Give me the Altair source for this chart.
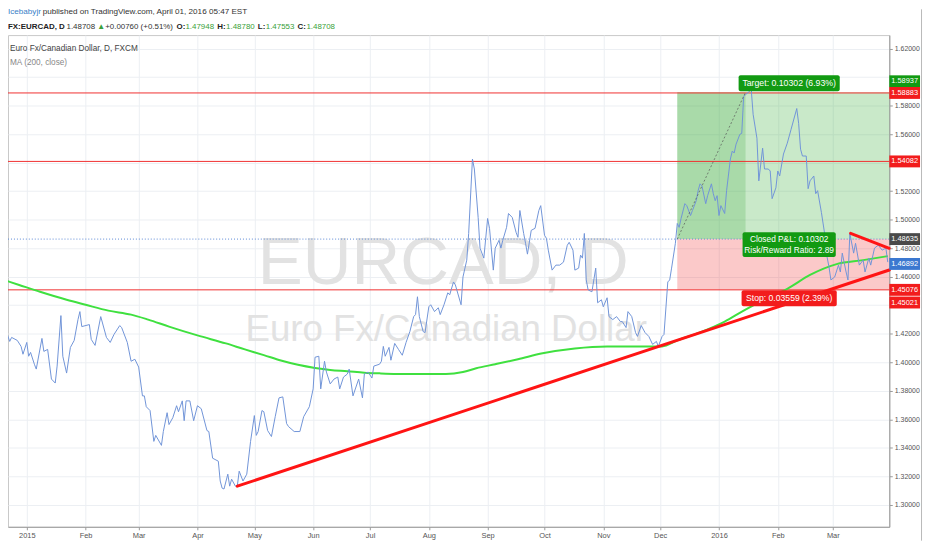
import altair as alt
import pandas as pd

FONT = "Liberation Sans, Arial, sans-serif"

# ---------------- data ----------------
start_date = "2015-01-01"
x_domain_days = [-9.9, 454.8]
y_domain = [1.2846, 1.6294]

# EUR/CAD daily close (days after 2015-01-01, price)
price_days = [
    -11, -9, -8, -5, -3, -2, 0, 1, 2, 4,
    5, 8, 9, 11, 13, 15, 16, 18, 19, 21,
    23, 25, 27, 28, 29, 33, 34, 36, 39, 42,
    44, 46, 49, 50, 53, 55, 57, 59, 61, 62,
    63, 65, 67, 68, 71, 72, 74, 75, 77, 79,
    80, 82, 83, 84, 86, 88, 90, 92, 95, 96,
    98, 101, 102, 103, 104, 106, 107, 108, 110, 111,
    112, 114, 116, 118, 120, 121, 122, 124, 125, 127,
    129, 131, 133, 135, 137, 138, 141, 144, 146, 149,
    151, 152, 154, 155, 157, 158, 160, 162, 164, 165,
    167, 169, 170, 172, 175, 177, 178, 180, 182, 183,
    186, 187, 188, 189, 191, 192, 194, 196, 198, 200,
    202, 204, 205, 206, 207, 209, 210, 212, 213, 215,
    217, 218, 220, 222, 223, 225, 226, 229, 230, 232,
    233, 235, 236, 238, 239, 241, 243, 244, 246, 247,
    249, 250, 251, 253, 254, 256, 258, 259, 260, 262,
    263, 264, 266, 268, 270, 271, 273, 274, 275, 277,
    279, 281, 283, 285, 286, 288, 289, 291, 292, 293,
    294, 295, 296, 298, 300, 301, 303, 304, 306, 307,
    309, 311, 313, 314, 316, 317, 319, 321, 322, 324,
    326, 328, 330, 332, 333, 335, 336, 338, 339, 340,
    342, 343, 344, 345, 347, 348, 350, 351, 353, 354,
    355, 356, 358, 359, 361, 362, 363, 364, 365, 366,
    368, 369, 371, 372, 373, 374, 376, 377, 378, 379,
    381, 382, 383, 385, 386, 388, 389, 391, 392, 393,
    395, 396, 397, 399, 401, 403, 406, 407, 408, 409,
    411, 412, 413, 415, 416, 417, 419, 421, 422, 423,
    424, 426, 428, 429, 430, 432, 433, 434, 436, 437,
    439, 441, 442, 444, 445, 447, 449, 451, 453, 454,
]
price_vals = [
    1.4223, 1.4146, 1.4174, 1.4153, 1.4111, 1.4056, 1.4139, 1.4042, 1.4069, 1.3986,
    1.3952, 1.4167, 1.4076, 1.4090, 1.3882, 1.3854, 1.3973, 1.4327, 1.4042, 1.3924,
    1.4104, 1.4153, 1.4299, 1.4355, 1.4250, 1.4264, 1.4160, 1.4118, 1.4320, 1.4174,
    1.4139, 1.4195, 1.4257, 1.4244, 1.4139, 1.4007, 1.4021, 1.3966, 1.3764, 1.3764,
    1.3688, 1.3661, 1.3445, 1.3487, 1.3417, 1.3514, 1.3646, 1.3563, 1.3611, 1.3695,
    1.3653, 1.3729, 1.3590, 1.3729, 1.3729, 1.3590, 1.3695, 1.3674, 1.3521, 1.3514,
    1.3327, 1.3306, 1.3167, 1.3117, 1.3111, 1.3215, 1.3131, 1.3180, 1.3131, 1.3131,
    1.3236, 1.3167, 1.3215, 1.3445, 1.3626, 1.3487, 1.3514, 1.3661, 1.3653, 1.3521,
    1.3479, 1.3618, 1.3750, 1.3757, 1.3570, 1.3549, 1.3514, 1.3514, 1.3618, 1.3688,
    1.3813, 1.4035, 1.4042, 1.3813, 1.4007, 1.3931, 1.3848, 1.3882, 1.3896, 1.3813,
    1.3896, 1.3917, 1.3952, 1.3764, 1.3882, 1.3750, 1.3917, 1.3931, 1.3889, 1.3973,
    1.3986, 1.4007, 1.4111, 1.4042, 1.4104, 1.4014, 1.4132, 1.4090, 1.4049, 1.4139,
    1.4215, 1.4320, 1.4334, 1.4459, 1.4320, 1.4215, 1.4208, 1.4389, 1.4403, 1.4355,
    1.4382, 1.4334, 1.4403, 1.4487, 1.4473, 1.4563, 1.4542, 1.4403, 1.4598, 1.4716,
    1.4903, 1.5425, 1.5355, 1.5015, 1.4800, 1.4730, 1.5008, 1.4939, 1.4646, 1.4800,
    1.4855, 1.4800, 1.4855, 1.4946, 1.5043, 1.5015, 1.4911, 1.4876, 1.5064, 1.4903,
    1.4834, 1.4758, 1.4925, 1.4939, 1.5064, 1.5098, 1.4890, 1.4869, 1.4786, 1.4646,
    1.4681, 1.4681, 1.4702, 1.4820, 1.4841, 1.4786, 1.4646, 1.4660, 1.4751, 1.4730,
    1.4903, 1.4577, 1.4507, 1.4494, 1.4660, 1.4417, 1.4438, 1.4389, 1.4452, 1.4320,
    1.4299, 1.4320, 1.4285, 1.4285, 1.4243, 1.4355, 1.4320, 1.4208, 1.4181, 1.4257,
    1.4208, 1.4181, 1.4125, 1.4146, 1.4111, 1.4181, 1.4195, 1.4563, 1.4577, 1.4660,
    1.4834, 1.4973, 1.4946, 1.5008, 1.5112, 1.5098, 1.5029, 1.5064, 1.5133, 1.5203,
    1.5251, 1.5237, 1.5112, 1.5168, 1.5251, 1.5182, 1.5133, 1.5168, 1.5029, 1.5098,
    1.5043, 1.5203, 1.5425, 1.5481, 1.5467, 1.5529, 1.5598, 1.5605, 1.5863, 1.5877,
    1.5898, 1.5912, 1.5738, 1.5571, 1.5272, 1.5501, 1.5355, 1.5355, 1.5341, 1.5147,
    1.5223, 1.5341, 1.5306, 1.5460, 1.5536, 1.5633, 1.5779, 1.5675, 1.5494, 1.5446,
    1.5446, 1.5217, 1.5272, 1.5306, 1.5182, 1.5203, 1.5050, 1.4876, 1.4737, 1.4668,
    1.4577, 1.4598, 1.4681, 1.4633, 1.4765, 1.4633, 1.4577, 1.4903, 1.4765, 1.4834,
    1.4681, 1.4716, 1.4633, 1.4730, 1.4681, 1.4800, 1.4821, 1.4786, 1.4800, 1.4702,
]

# MA (200, close)
ma_days = [-12, -4, 7, 21, 31, 43, 55, 64, 75, 90,
           105, 115, 125, 134, 143, 152, 160, 169, 178,
           186, 195, 204, 212, 221, 230, 237, 247, 259, 272,
           289, 306, 324, 335, 343, 355, 368, 378, 390, 401,
           413, 427, 441, 454]
ma_vals = [1.4577, 1.4542, 1.4494, 1.4438, 1.4403, 1.4362, 1.4334, 1.4299, 1.4250, 1.4188,
           1.4132, 1.4090, 1.4050, 1.4012, 1.3982, 1.3960, 1.3946, 1.3937, 1.3927,
           1.3922, 1.3918, 1.3917, 1.3917, 1.3917, 1.3931, 1.3958, 1.3986, 1.4021, 1.4063,
           1.4097, 1.4111, 1.4111, 1.4111, 1.4153, 1.4209, 1.4285, 1.4362, 1.4445, 1.4514,
           1.4612, 1.4688, 1.4716, 1.4744]

month_ticks = ["2015-01-01", "2015-02-01", "2015-03-01", "2015-04-01", "2015-05-01",
               "2015-06-01", "2015-07-01", "2015-08-01", "2015-09-01", "2015-10-01",
               "2015-11-01", "2015-12-01", "2016-01-01", "2016-02-01", "2016-03-01"]
price_ticks = [1.30, 1.32, 1.34, 1.36, 1.38, 1.40, 1.42, 1.44, 1.46, 1.48,
               1.50, 1.52, 1.54, 1.56, 1.58, 1.60, 1.62]
# tick labels hidden behind the price tags in the reference
covered_ticks = ["1.60", "1.54", "1.44"]

level_lines = [1.58883, 1.54082, 1.45076]
entry_price = 1.48635
target_price = 1.58937
stop_price = 1.45076
entry_day = 343
close_day = 379
end_day = 454.8
label_day = 402

trend_start_days = [111, 434.4]
trend_start_vals = [1.3131, 1.4904]
trend_end_days = [454.8, 454.8]
trend_end_vals = [1.4647, 1.4799]

tag_vals = [1.58937, 1.58883, 1.54082, 1.48635, 1.46892, 1.45076, 1.45021]
tag_colors = ["#129a12", "#f21c1c", "#f21c1c", "#4a4a4a", "#3b78d0", "#f21c1c", "#f21c1c"]
tag_nudges = [-11, 0, 0, 0, 0, 0, 12]

# ---------------- helpers ----------------
t0 = pd.Timestamp(start_date)


def ms(days):
    return int((t0 + pd.Timedelta(days=days)).value // 1_000_000)


def ms_date(s):
    return int(pd.Timestamp(s).value // 1_000_000)


W, H = 889, 496
xs = alt.Scale(type="utc", domain=[ms(x_domain_days[0]), ms(x_domain_days[1])])
ys = alt.Scale(domain=y_domain, nice=False, zero=False)

hidden = " || ".join(f"format(datum.value, '.2f') == '{c}'" for c in covered_ticks)

x_axis = alt.Axis(
    values=[ms_date(s) for s in month_ticks],
    labelExpr="utcFormat(datum.value, '%m') == '01' ? utcFormat(datum.value, '%Y') : utcFormat(datum.value, '%b')",
    grid=True, gridColor="#eceff3", domainColor="#9a9a9a", tickColor="#9a9a9a",
    tickSize=3, labelFont=FONT, labelFontSize=7.5, labelColor="#555", labelPadding=2,
    labelFlush=False, labelOverlap=False, title=None,
)
y_axis = alt.Axis(
    orient="right", values=price_ticks,
    labelExpr=f"({hidden}) ? '' : format(datum.value, '.5f')",
    grid=True, gridColor="#eceff3", domainColor="#9a9a9a", tickColor="#9a9a9a",
    tickSize=3, labelFont=FONT, labelFontSize=7, labelColor="#555", labelPadding=2,
    labelOverlap=False, labelFlush=False, title=None,
)


def X(field="t"):
    return alt.X(f"{field}:T", scale=xs, axis=x_axis)


def Y(field="p"):
    return alt.Y(f"{field}:Q", scale=ys, axis=y_axis)


one = pd.DataFrame({"a": [0]})

price_df = pd.DataFrame({"t": [ms(d) for d in price_days], "p": price_vals})
ma_df = pd.DataFrame({"t": [ms(d) for d in ma_days], "p": ma_vals})

layers = []

# zones of the long-position tool
layers.append(alt.Chart(pd.DataFrame({"t": [ms(entry_day)], "t2": [ms(end_day)],
                                      "p": [entry_price], "p2": [target_price]}))
              .mark_rect(color="#3caf3c", opacity=0.28)
              .encode(x=X(), x2="t2", y=Y(), y2="p2"))
layers.append(alt.Chart(pd.DataFrame({"t": [ms(entry_day)], "t2": [ms(close_day)],
                                      "p": [entry_price], "p2": [target_price]}))
              .mark_rect(color="#2e9e2e", opacity=0.2)
              .encode(x=X(), x2="t2", y=Y(), y2="p2"))
layers.append(alt.Chart(pd.DataFrame({"t": [ms(entry_day)], "t2": [ms(end_day)],
                                      "p": [entry_price], "p2": [stop_price]}))
              .mark_rect(color="#f03c3c", opacity=0.28)
              .encode(x=X(), x2="t2", y=Y(), y2="p2"))

# watermark
layers.append(alt.Chart(one).mark_text(font=FONT, fontSize=68, color="#e2e2e2",
                                       align="center", baseline="middle")
              .encode(x=alt.value(439), y=alt.value(231), text=alt.value("EURCAD, D")))
layers.append(alt.Chart(one).mark_text(font=FONT, fontSize=37, color="#e2e2e2",
                                       align="center", baseline="middle")
              .encode(x=alt.value(442), y=alt.value(298), text=alt.value("Euro Fx/Canadian Dollar")))

# horizontal levels
layers.append(alt.Chart(pd.DataFrame({"p": level_lines}))
              .mark_rule(color="#f03030", strokeWidth=1).encode(y=Y()))
layers.append(alt.Chart(pd.DataFrame({"p": [entry_price]}))
              .mark_rule(color="#5a88d6", strokeWidth=1, strokeDash=[1, 2]).encode(y=Y()))

# moving average and price
layers.append(alt.Chart(ma_df).mark_line(color="#3fe03f", strokeWidth=2, clip=True,
                                         interpolate="monotone")
              .encode(x=X(), y=Y()))
layers.append(alt.Chart(price_df).mark_line(color="#7094d8", strokeWidth=1, clip=True)
              .encode(x=X(), y=Y()))

# projection to target (dotted)
layers.append(alt.Chart(pd.DataFrame({"t": [ms(entry_day)], "t2": [ms(close_day)],
                                      "p": [entry_price], "p2": [target_price]}))
              .mark_rule(color="#555", strokeDash=[2, 2], strokeWidth=1, opacity=0.7)
              .encode(x=X(), x2="t2", y=Y(), y2="p2"))

# trend lines
trend_df = pd.DataFrame({"t": [ms(d) for d in trend_start_days], "p": trend_start_vals,
                         "t2": [ms(d) for d in trend_end_days], "p2": trend_end_vals})
layers.append(alt.Chart(trend_df).mark_rule(color="#ff1414", strokeWidth=3, strokeCap="round")
              .encode(x=X(), x2="t2", y=Y(), y2="p2"))


# annotation boxes
def box(price, w, h, dy, color):
    return (alt.Chart(pd.DataFrame({"t": [ms(label_day)], "p": [price]}))
            .mark_rect(width=w, height=h, yOffset=dy, color=color, cornerRadius=2)
            .encode(x=X(), y=Y()))


def btext(price, txt, dy, size):
    return (alt.Chart(pd.DataFrame({"t": [ms(label_day)], "p": [price]}))
            .mark_text(font=FONT, fontSize=size, color="white", dy=dy,
                       align="center", baseline="middle")
            .encode(x=X(), y=Y(), text=alt.value(txt)))


layers.append(box(target_price, 102, 16, -9, "#129a12"))
layers.append(btext(target_price, "Target: 0.10302 (6.93%)", -9, 8.8))
layers.append(box(entry_price, 94, 25, 5.5, "#129a12"))
layers.append(btext(entry_price, "Closed P&L: 0.10302", -0.5, 8.4))
layers.append(btext(entry_price, "Risk/Reward Ratio: 2.89", 11, 8.4))
layers.append(box(stop_price, 96, 16, 8.5, "#f21c1c"))
layers.append(btext(stop_price, "Stop: 0.03559 (2.39%)", 8.5, 8.7))

# price tags on the right axis
for val, col, nudge in zip(tag_vals, tag_colors, tag_nudges):
    d = pd.DataFrame({"p": [val]})
    layers.append(alt.Chart(d).mark_rect(color=col, height=12, yOffset=nudge)
                  .encode(x=alt.value(W), x2=alt.value(W + 31), y=Y()))
    layers.append(alt.Chart(d).mark_text(font=FONT, fontSize=7.5, color="white", dy=nudge,
                                         align="center", baseline="middle")
                  .encode(x=alt.value(W + 15.5), y=Y(), text=alt.value(f"{val:.5f}")))

# header & legend texts (pixel positions relative to the plot's top-left corner)
GREEN = "#3a9f3a"
header = [
    ("Icebabyjr", 0, -23.5, "#3a7fc8", "normal", 8.2),
    ("published on TradingView.com, April 01, 2016 05:47 EST", 35, -23.5, "#333333", "normal", 8.2),
    ("FX:EURCAD, D", 0, -8, "#222222", "bold", 8),
    ("1.48708", 59, -8, "#333333", "normal", 8),
    ("\u25b2", 90, -8, GREEN, "normal", 8),
    ("+0.00760 (+0.51%)", 98, -8, "#333333", "normal", 8),
    ("O:", 170, -8, "#222222", "bold", 8),
    ("1.47948", 179, -8, GREEN, "normal", 8),
    ("H:", 211, -8, "#222222", "bold", 8),
    ("1.48780", 220, -8, GREEN, "normal", 8),
    ("L:", 252, -8, "#222222", "bold", 8),
    ("1.47553", 260, -8, GREEN, "normal", 8),
    ("C:", 292, -8, "#222222", "bold", 8),
    ("1.48708", 301, -8, GREEN, "normal", 8),
    ("Euro Fx/Canadian Dollar, D, FXCM", 2, 14, "#444444", "normal", 8.3),
    ("MA (200, close)", 2, 28, "#888888", "normal", 8.3),
]
for txt, hx, hy, col, wt, fs in header:
    layers.append(alt.Chart(one).mark_text(font=FONT, fontSize=fs, color=col, fontWeight=wt,
                                           align="left", baseline="middle")
                  .encode(x=alt.value(hx), y=alt.value(hy), text=alt.value(txt)))

# outer frame (right edge)
layers.append(alt.Chart(one).mark_rule(color="#b8b8b8", strokeWidth=1)
              .encode(x=alt.value(W + 32.5), y=alt.value(-26), y2=alt.value(H + 14)))

chart = alt.layer(*layers).properties(
    width=W, height=H,
    autosize="none",
    padding={"left": 0, "top": 25, "right": 35, "bottom": 13},
    background="white",
).configure_view(stroke="#c8c8c8")

chart.save("out.html", embed_options={"renderer": "svg", "actions": False})
